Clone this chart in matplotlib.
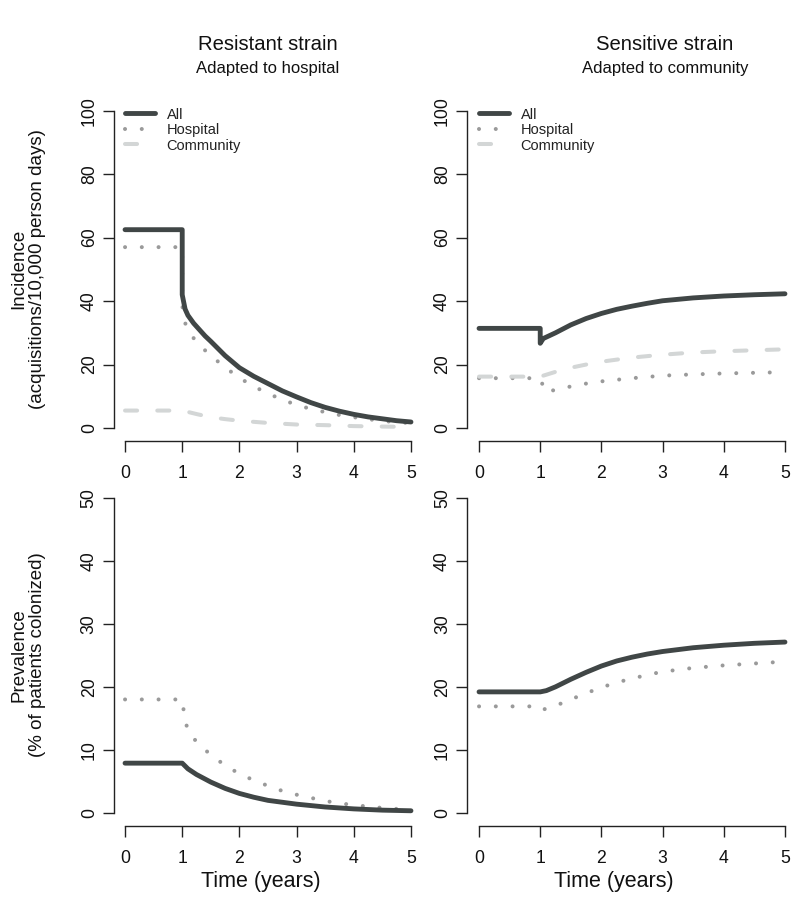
import matplotlib
matplotlib.use("Agg")
import matplotlib.pyplot as plt

plt.rcParams['font.family'] = ['Liberation Sans', 'DejaVu Sans']

# ---------------- data ----------------
# Resistant strain - incidence (acquisitions / 10,000 person days)
res_inc_all_t = [0, 1, 1, 1.05, 1.1, 1.2, 1.3, 1.4, 1.5, 1.75, 2, 2.25, 2.5, 2.75, 3, 3.25, 3.5, 3.75, 4, 4.25, 4.5, 4.75, 5]
res_inc_all = [62.5, 62.5, 42, 37.5, 35.5, 33, 31, 29, 27.3, 22.8, 19.0, 16.3, 14.0, 11.7, 9.8, 8.0, 6.5, 5.3, 4.3, 3.5, 2.9, 2.3, 1.9]
res_inc_hosp_t = [0, 1, 1, 1.03, 1.1, 1.2, 1.35, 1.5, 1.75, 2, 2.25, 2.5, 2.75, 3, 3.25, 3.5, 3.75, 4, 4.5, 5]
res_inc_hosp = [57, 57, 39, 34, 31, 28.3, 25.3, 22.8, 19.1, 15.8, 13.1, 10.9, 8.9, 7.3, 6.0, 5.0, 4.1, 3.4, 2.2, 1.5]
res_inc_comm_t = [0, 1, 1.25, 1.5, 1.75, 2, 2.5, 3, 3.5, 4, 4.5, 5]
res_inc_comm = [5.5, 5.5, 4.4, 3.4, 2.8, 2.3, 1.6, 1.1, 0.9, 0.6, 0.45, 0.35]

# Sensitive strain - incidence
sen_inc_all_t = [0, 1, 1, 1.05, 1.25, 1.5, 1.75, 2, 2.25, 2.5, 2.75, 3, 3.5, 4, 4.5, 5]
sen_inc_all = [31.4, 31.4, 26.7, 28.2, 30.0, 32.5, 34.5, 36.1, 37.4, 38.4, 39.3, 40.1, 41.0, 41.6, 42.0, 42.3]
sen_inc_hosp_t = [0, 1, 1.08, 1.25, 1.5, 1.75, 2, 2.25, 2.5, 2.75, 3, 3.5, 4, 4.5, 5]
sen_inc_hosp = [15.7, 15.7, 11.4, 12.0, 13.1, 14.0, 14.7, 15.2, 15.7, 16.1, 16.5, 16.9, 17.2, 17.4, 17.6]
sen_inc_comm_t = [0, 1, 1.25, 1.5, 1.75, 2, 2.5, 3, 3.5, 4, 4.5, 5]
sen_inc_comm = [16.2, 16.2, 17.7, 19.0, 20.0, 20.9, 22.2, 23.1, 23.8, 24.2, 24.5, 24.8]

# Resistant strain - prevalence (% of patients colonized)
res_prev_all_t = [0, 1, 1.1, 1.25, 1.5, 1.75, 2, 2.25, 2.5, 3, 3.5, 4, 4.5, 5]
res_prev_all = [7.9, 7.9, 7.0, 6.1, 4.9, 3.9, 3.1, 2.5, 2.0, 1.4, 0.95, 0.65, 0.45, 0.35]
res_prev_hosp_t = [0, 1, 1.02, 1.05, 1.1, 1.2, 1.4, 1.6, 1.8, 2, 2.25, 2.5, 2.75, 3, 3.25, 3.5, 3.75, 4, 4.5, 5]
res_prev_hosp = [18.0, 18.0, 16.6, 14.6, 13.2, 11.8, 10.0, 8.5, 7.3, 6.2, 5.2, 4.3, 3.5, 2.9, 2.4, 1.9, 1.55, 1.25, 0.8, 0.5]

# Sensitive strain - prevalence
sen_prev_all_t = [0, 1, 1.1, 1.25, 1.5, 1.75, 2, 2.25, 2.5, 2.75, 3, 3.5, 4, 4.5, 5]
sen_prev_all = [19.2, 19.2, 19.4, 20.0, 21.2, 22.3, 23.3, 24.1, 24.7, 25.2, 25.6, 26.2, 26.6, 26.9, 27.1]
sen_prev_hosp_t = [0, 1, 1.05, 1.25, 1.5, 1.75, 2, 2.25, 2.5, 2.75, 3, 3.5, 4, 4.5, 5]
sen_prev_hosp = [16.9, 16.9, 16.4, 17.0, 18.0, 19.0, 19.9, 20.7, 21.3, 21.9, 22.4, 23.0, 23.4, 23.7, 24.0]

x_ticks = [0, 1, 2, 3, 4, 5]
inc_ticks = [0, 20, 40, 60, 80, 100]
prev_ticks = [0, 10, 20, 30, 40, 50]
series_labels = ["All", "Hospital", "Community"]

# ---------------- styling ----------------
C_ALL = '#404646'
C_HOSP = '#9a9a9a'
C_COMM = '#d3d6d6'
AX_COL = '#222222'

W, H = 802, 900
fig = plt.figure(figsize=(W / 100, H / 100), dpi=100)

def px_axes(x0, y0, x1, y1):
    return fig.add_axes([x0 / W, 1 - y1 / H, (x1 - x0) / W, (y1 - y0) / H])

ax_tl = px_axes(113.6, 98.0, 422.4, 440.7)
ax_tr = px_axes(466.8, 98.0, 797.2, 440.7)
ax_bl = px_axes(113.6, 485.0, 422.4, 825.6)
ax_br = px_axes(466.8, 485.0, 797.2, 825.6)

def style(ax, yticks):
    ymax = yticks[-1]
    pad = ymax * 0.04
    ax.set_xlim(-0.2, 5.2)
    ax.set_ylim(-pad, ymax + pad)
    for s in ['top', 'right']:
        ax.spines[s].set_visible(False)
    for s in ['left', 'bottom']:
        ax.spines[s].set_color(AX_COL)
        ax.spines[s].set_linewidth(1.0)
    ax.spines['left'].set_bounds(yticks[0], yticks[-1])
    ax.spines['bottom'].set_bounds(x_ticks[0], x_ticks[-1])
    ax.set_xticks(x_ticks)
    ax.set_xticklabels([str(v) for v in x_ticks])
    ax.set_yticks(yticks)
    ax.set_yticklabels([str(v) for v in yticks], rotation=90, va='center')
    ax.tick_params(axis='both', direction='out', length=7.9, width=1.0,
                   color=AX_COL, labelsize=12.7, labelcolor='#111111')
    ax.tick_params(axis='x', pad=9.5)
    ax.tick_params(axis='y', pad=3.5)
    ax.patch.set_alpha(0)

def draw_all(ax, t, v):
    ax.plot(t, v, color=C_ALL, lw=3.5, solid_capstyle='round', solid_joinstyle='round',
            label=series_labels[0], zorder=4)

def draw_hosp(ax, t, v):
    ax.plot(t, v, color=C_HOSP, lw=2.9, linestyle=(0, (0.01, 4.15)),
            dash_capstyle='round', label=series_labels[1], zorder=2)

def draw_comm(ax, t, v):
    ax.plot(t, v, color=C_COMM, lw=2.9, linestyle=(0, (3.0, 5.0)),
            dash_capstyle='round', label=series_labels[2], zorder=3)

draw_all(ax_tl, res_inc_all_t, res_inc_all)
draw_hosp(ax_tl, res_inc_hosp_t, res_inc_hosp)
draw_comm(ax_tl, res_inc_comm_t, res_inc_comm)

draw_all(ax_tr, sen_inc_all_t, sen_inc_all)
draw_hosp(ax_tr, sen_inc_hosp_t, sen_inc_hosp)
draw_comm(ax_tr, sen_inc_comm_t, sen_inc_comm)

draw_all(ax_bl, res_prev_all_t, res_prev_all)
draw_hosp(ax_bl, res_prev_hosp_t, res_prev_hosp)

draw_all(ax_br, sen_prev_all_t, sen_prev_all)
draw_hosp(ax_br, sen_prev_hosp_t, sen_prev_hosp)

for ax in (ax_tl, ax_tr):
    style(ax, inc_ticks)
    ax.legend(loc='upper left', bbox_to_anchor=(0.2 / 5.4, 1 - 9.6 / 342.7),
              frameon=False, fontsize=10.5, handlelength=2.05, handletextpad=0.8,
              labelspacing=0.1, borderpad=0, borderaxespad=0, labelcolor='#222222')
for ax in (ax_bl, ax_br):
    style(ax, prev_ticks)

# ---------------- texts ----------------
def ftext(x, y, s, **kw):
    fig.text(x / W, 1 - y / H, s, ha='center', va='center', color='#111111', **kw)

ftext(268, 45, "Resistant strain", fontsize=14.6)
ftext(268, 68, "Adapted to hospital", fontsize=12)
ftext(665, 45, "Sensitive strain", fontsize=14.6)
ftext(665, 68, "Adapted to community", fontsize=12)

ftext(19, 269, "Incidence", fontsize=13.5, rotation=90)
ftext(38, 269, "(acquisitions/10,000 person days)", fontsize=13.5, rotation=90)
ftext(19, 655, "Prevalence", fontsize=13.5, rotation=90)
ftext(38, 655, "(% of patients colonized)", fontsize=13.5, rotation=90)

ftext(261, 881, "Time (years)", fontsize=15.5)
ftext(614, 881, "Time (years)", fontsize=15.5)

fig.savefig("out.png", dpi=100)
